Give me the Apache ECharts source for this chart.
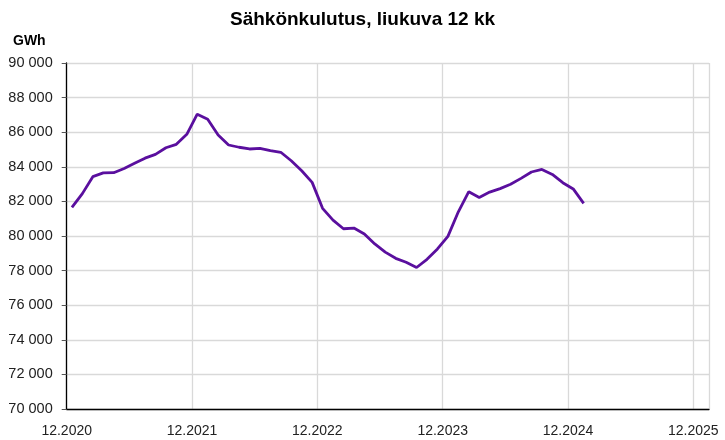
<!DOCTYPE html>
<html>
<head>
<meta charset="utf-8">
<script src="https://cdn.jsdelivr.net/npm/echarts@6/dist/echarts.min.js"></script>
<style>
html,body{margin:0;padding:0;background:#fff;}
#chart{width:725px;height:440px;}
</style>
</head>
<body>
<div id="chart"></div>
<script>
// Months from 12.2020 through 1.2025
var months = ["12.2020","1.2021","2.2021","3.2021","4.2021","5.2021","6.2021","7.2021","8.2021","9.2021","10.2021","11.2021",
  "12.2021","1.2022","2.2022","3.2022","4.2022","5.2022","6.2022","7.2022","8.2022","9.2022","10.2022","11.2022",
  "12.2022","1.2023","2.2023","3.2023","4.2023","5.2023","6.2023","7.2023","8.2023","9.2023","10.2023","11.2023",
  "12.2023","1.2024","2.2024","3.2024","4.2024","5.2024","6.2024","7.2024","8.2024","9.2024","10.2024","11.2024",
  "12.2024","1.2025"];
var consumption = [81650,82450,83430,83650,83660,83900,84200,84500,84720,85100,85300,85880,
  87040,86750,85840,85260,85130,85030,85070,84930,84840,84350,83770,83100,
  81600,80920,80420,80460,80120,79540,79070,78710,78480,78180,78650,79250,
  79980,81400,82560,82230,82540,82740,82990,83330,83700,83850,83560,83080,
  82720,81890];
var xTickLabels = ["12.2020","12.2021","12.2022","12.2023","12.2024","12.2025"];
var title = "Sähkönkulutus, liukuva 12 kk";
var unit = "GWh";

var seriesData = consumption.map(function (v, i) { return [i + 0.5, v]; });

var chart = echarts.init(document.getElementById('chart'), null, {renderer: 'canvas'});
var font = 'Liberation Sans, Arial, sans-serif';
chart.setOption({
  animation: false,
  title: {
    text: title, left: 'center', top: 5,
    textStyle: {fontFamily: font, fontSize: 19, fontWeight: 'bold', color: '#000'}
  },
  graphic: [{
    type: 'text', left: 13, top: 34,
    style: {text: unit, fontFamily: font, fontSize: 14, fontWeight: 'bold', fill: '#000'}
  }],
  grid: {left: 66.7, right: 16, top: 63, bottom: 31, containLabel: false},
  xAxis: {
    type: 'value', min: 0, max: 61.5, interval: 12,
    axisLine: {show: true, onZero: false, lineStyle: {color: '#000', width: 1.3}},
    axisTick: {show: false},
    axisLabel: {
      showMaxLabel: false, margin: 15,
      fontFamily: font, fontSize: 14, color: '#222',
      formatter: function (v) { return xTickLabels[Math.round(v / 12)] || ''; }
    },
    splitLine: {show: true, lineStyle: {color: '#d9d9d9', width: 1.3}}
  },
  yAxis: {
    type: 'value', min: 70000, max: 90000, interval: 2000,
    axisLine: {show: true, lineStyle: {color: '#000', width: 1.3}},
    axisTick: {show: true, length: 5, lineStyle: {color: '#555'}},
    axisLabel: {
      margin: 14, fontFamily: font, fontSize: 14.5, color: '#222',
      formatter: function (v) { return String(v).replace(/(\d)(?=(\d{3})+$)/g, '$1 '); }
    },
    splitLine: {show: true, lineStyle: {color: '#d9d9d9', width: 1.3}}
  },
  series: [{
    type: 'line', data: seriesData, symbol: 'none',
    lineStyle: {color: '#5A0F9E', width: 2.8},
    itemStyle: {color: '#5A0F9E'}
  }]
});
</script>
</body>
</html>
